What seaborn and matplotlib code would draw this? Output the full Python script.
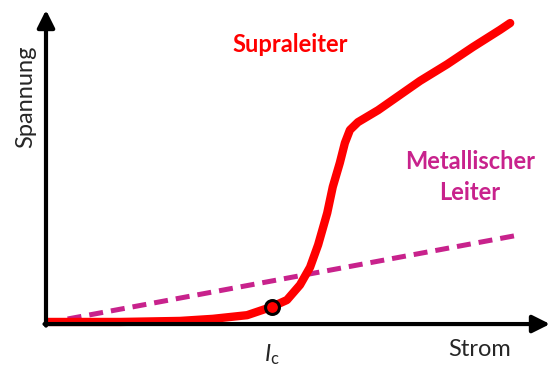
import pandas as pd
import matplotlib.pyplot as plt
import numpy as np
import seaborn as sns

sns.set_style('white')
plt.rcParams['font.family'] = ['Lato', 'DejaVu Sans']
plt.rcParams['mathtext.fontset'] = 'custom'
plt.rcParams['mathtext.it'] = 'Lato:italic'
plt.rcParams['mathtext.rm'] = 'Lato'

# Supraleiter curve (Strom, Spannung), arbitrary units
strom_supra = [0.04, 1.47, 2.66, 3.31, 3.99, 4.48, 4.78, 5.04, 5.24, 5.40, 5.58, 5.69,
               5.83, 5.93, 6.03, 6.19, 6.59, 7.42, 7.96, 8.47, 9.01, 9.21]
spannung_supra = [0.02, 0.02, 0.04, 0.08, 0.15, 0.31, 0.44, 0.73, 1.07, 1.50, 2.11, 2.61,
                  3.07, 3.45, 3.70, 3.85, 4.08, 4.64, 4.96, 5.29, 5.62, 5.75]

# Metallischer Leiter (ohmic)
strom_metall = [0.0, 9.40]
spannung_metall = [0.0, 1.69]

# critical current point
ic_strom = 4.48
ic_spannung = 0.31

red = '#ff0000'
magenta = '#c8228c'

supra = pd.DataFrame({'Strom': strom_supra, 'Spannung': spannung_supra})
metall = pd.DataFrame({'Strom': strom_metall, 'Spannung': spannung_metall})

fig = plt.figure(figsize=(5.51, 3.74), dpi=100)
ax = fig.add_axes([46/551, 51/374, 504/551, 313/374])

sns.lineplot(data=metall, x='Strom', y='Spannung', ax=ax, color=magenta, lw=3.6,
             linestyle=(0, (2.8, 1.6)), clip_on=False, sort=False)
sns.lineplot(data=supra, x='Strom', y='Spannung', ax=ax, color=red, lw=6,
             solid_capstyle='round', solid_joinstyle='round', clip_on=False, sort=False)
ax.plot([ic_strom], [ic_spannung], 'o', ms=10, mfc=red, mec='black', mew=2.2,
        clip_on=False, zorder=5)

ax.set_xlim(0, 10)
ax.set_ylim(0, 6)
ax.set_xticks([])
ax.set_yticks([])
ax.set_xlabel('')
ax.set_ylabel('')
for s in ax.spines.values():
    s.set_visible(False)

arrow = dict(arrowstyle='-|>', lw=3, color='black', mutation_scale=26,
             shrinkA=0, shrinkB=0)
ax.annotate('', xy=(10, -0.02), xytext=(-0.03, -0.02), arrowprops=arrow,
            annotation_clip=False)
ax.annotate('', xy=(0, 6.0), xytext=(0, -0.05), arrowprops=arrow,
            annotation_clip=False)

ax.text(8.61, -0.50, 'Strom', fontsize=17, ha='center', va='center')
ax.text(-0.40, 4.33, 'Spannung', fontsize=17, ha='center', va='center',
        rotation=90)
ax.text(4.48, -0.61, r'$I_\mathrm{c}$', fontsize=17, ha='center', va='center')
ax.text(4.84, 5.33, 'Supraleiter', fontsize=17, fontweight='bold', color=red,
        ha='center', va='center')
ax.text(8.41, 3.09, 'Metallischer', fontsize=17, fontweight='bold', color=magenta,
        ha='center', va='center')
ax.text(8.41, 2.51, 'Leiter', fontsize=17, fontweight='bold', color=magenta,
        ha='center', va='center')

fig.savefig('out.png', dpi=100)
